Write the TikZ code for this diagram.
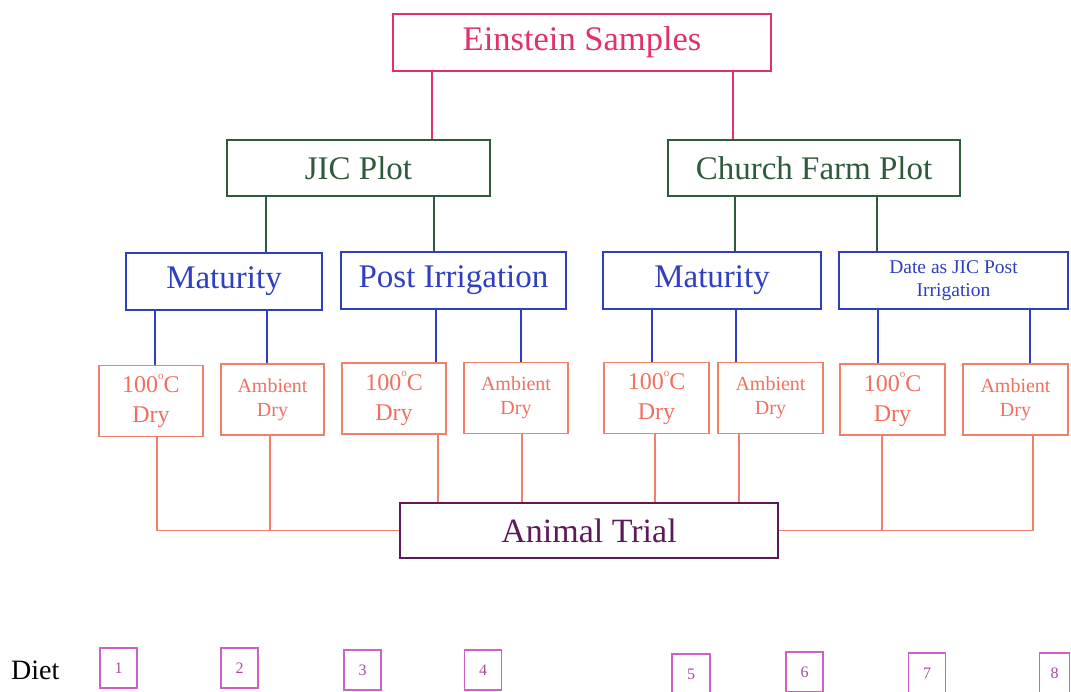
\documentclass[tikz,border=0pt]{standalone}
\usepackage{fontspec}
\setmainfont{Liberation Serif}
\definecolor{crim}{HTML}{E23068}
\definecolor{dgreen}{HTML}{2F5A3C}
\definecolor{dblue}{HTML}{2F3FC0}
\definecolor{salmon}{HTML}{F08068}
\definecolor{salmontxt}{HTML}{F07060}
\definecolor{plum}{HTML}{5E1A58}
\definecolor{orch}{HTML}{D060C8}
\newcommand{\fsb}[2]{\fontsize{#1}{#2}\selectfont}
\newcommand{\degc}{100\raisebox{0.55em}{\fsb{11}{11}o}C}
\begin{document}
\begin{tikzpicture}[x=1pt,y=-1pt,
  box/.style={draw,rectangle,inner sep=0pt,align=center},
  topbox/.style={box,draw=crim,text=crim,line width=2pt,font={\fsb{34.5}{38}}},
  plotbox/.style={box,draw=dgreen,text=dgreen,line width=2pt,font={\fsb{33}{38}}},
  stagebox/.style={box,draw=dblue,text=dblue,line width=2pt,font={\fsb{33}{38}}},
  drybox/.style={box,draw=salmon,text=salmontxt,line width=1.4pt,minimum height=71pt},
  hotdry/.style={drybox,font={\fsb{24}{30}}},
  ambdry/.style={drybox,font={\fsb{20}{24}}},
  trialbox/.style={box,draw=plum,text=plum,line width=2pt,font={\fsb{34}{38}}},
  dietbox/.style={box,draw=orch,text=orch!80!black,line width=1.2pt,minimum width=37pt,minimum height=40pt,font={\fsb{16}{18}}},
  c1/.style={crim,line width=2pt},
  c2/.style={dgreen,line width=2pt},
  c3/.style={dblue,line width=2pt},
  c4/.style={salmon,line width=1.4pt}]
\useasboundingbox (0,0) rectangle (1071,691);
\fill[white] (0,0) rectangle (1071,691);

\node[topbox,minimum width=378pt,minimum height=57pt] (es) at (582,42.5) {Einstein Samples};
\node[plotbox,minimum width=263pt,minimum height=56pt] (jic) at (358.5,168) {JIC Plot};
\node[plotbox,minimum width=292pt,minimum height=56pt] (cf) at (814,168) {Church Farm Plot};

\node[stagebox,minimum width=196pt,minimum height=57pt] (m1) at (224,281.5) {Maturity};
\node[stagebox,minimum width=225pt,minimum height=57pt] (pi) at (453.5,280.5) {Post Irrigation};
\node[stagebox,minimum width=218pt,minimum height=57pt] (m2) at (712,280.5) {Maturity};
\node[stagebox,minimum width=229pt,minimum height=57pt,font={\fsb{19.5}{23}}] (da) at (953.5,280.5) {Date as JIC Post\\Irrigation};

\node[hotdry,minimum width=104pt] (o1) at (151,401) {\degc\\Dry};
\node[ambdry,minimum width=103pt] (o2) at (272.5,399.5) {Ambient\\Dry};
\node[hotdry,minimum width=104pt] (o3) at (394,398.5) {\degc\\Dry};
\node[ambdry,minimum width=104pt] (o4) at (516,398) {Ambient\\Dry};
\node[hotdry,minimum width=105pt] (o5) at (656.5,398) {\degc\\Dry};
\node[ambdry,minimum width=105pt] (o6) at (770.5,398) {Ambient\\Dry};
\node[hotdry,minimum width=105pt] (o7) at (892.5,399.5) {\degc\\Dry};
\node[ambdry,minimum width=105pt] (o8) at (1015.5,399.5) {Ambient\\Dry};

\node[trialbox,minimum width=378pt,minimum height=55pt] (at) at (589,530.5) {Animal Trial};

% connectors
\draw[c1] (es.south -| 432,0) -- (jic.north -| 432,0);
\draw[c1] (es.south -| 733,0) -- (cf.north -| 733,0);
\draw[c2] (jic.south -| 266,0) -- (m1.north -| 266,0);
\draw[c2] (jic.south -| 434,0) -- (pi.north -| 434,0);
\draw[c2] (cf.south -| 735,0) -- (m2.north -| 735,0);
\draw[c2] (cf.south -| 877,0) -- (da.north -| 877,0);
\draw[c3] (m1.south -| 155,0) -- (o1.north -| 155,0);
\draw[c3] (m1.south -| 267,0) -- (o2.north -| 267,0);
\draw[c3] (pi.south -| 436,0) -- (o3.north -| 436,0);
\draw[c3] (pi.south -| 521,0) -- (o4.north -| 521,0);
\draw[c3] (m2.south -| 652,0) -- (o5.north -| 652,0);
\draw[c3] (m2.south -| 736,0) -- (o6.north -| 736,0);
\draw[c3] (da.south -| 878,0) -- (o7.north -| 878,0);
\draw[c3] (da.south -| 1030,0) -- (o8.north -| 1030,0);

\draw[c4] (o1.south -| 157,0) |- (at.west);
\draw[c4] (o2.south -| 270,0) -- (at.west -| 270,0);
\draw[c4] (o3.south -| 438,0) -- (at.north -| 438,0);
\draw[c4] (o4.south -| 522,0) -- (at.north -| 522,0);
\draw[c4] (o5.south -| 655,0) -- (at.north -| 655,0);
\draw[c4] (o6.south -| 739,0) -- (at.north -| 739,0);
\draw[c4] (o8.south -| 1033,0) |- (at.east);
\draw[c4] (o7.south -| 882,0) -- (at.east -| 882,0);

% diet row
\node[font={\fsb{28}{30}},anchor=west,inner sep=0pt] (diet) at (11,670) {Diet};
\node[dietbox] (d1) at (118.5,668) {1};
\node[dietbox] (d2) at (239.5,668) {2};
\node[dietbox] (d3) at (362.5,670) {3};
\node[dietbox] (d4) at (483,670) {4};
\node[dietbox,minimum width=38pt] (d5) at (691,674) {5};
\node[dietbox] (d6) at (804.5,672) {6};
\node[dietbox] (d7) at (927,673) {7};
\node[dietbox,minimum width=30pt] (d8) at (1054.5,673) {8};
\end{tikzpicture}
\end{document}
